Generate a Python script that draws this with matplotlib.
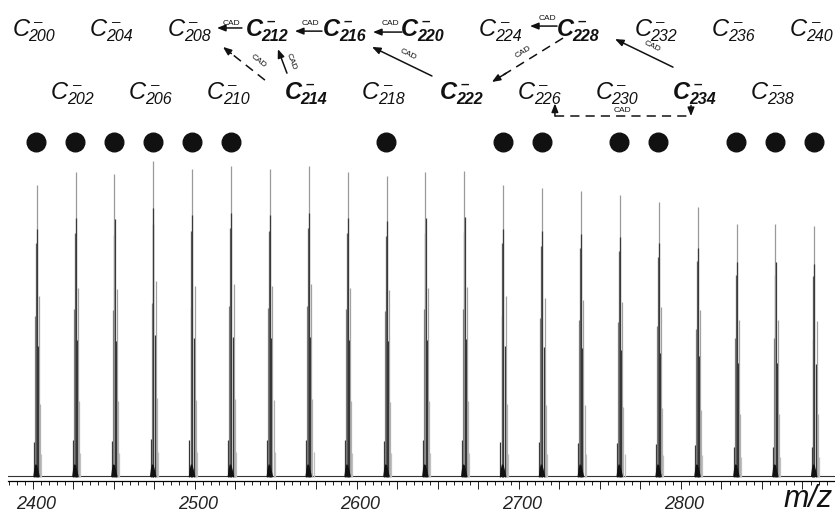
import matplotlib
matplotlib.use("Agg")
import matplotlib.pyplot as plt
import matplotlib.transforms as mtransforms
from matplotlib.ticker import MultipleLocator, FuncFormatter

plt.rcParams['font.family'] = ['Liberation Sans', 'DejaVu Sans']

# carbon cluster anions C_n^- and their peak heights (% of C206)
cluster_n = list(range(200, 242, 2))
peak_height = [92.4, 96.5, 95.9, 100.0, 97.5, 98.4, 97.5, 98.4, 96.5, 95.3,
               96.5, 96.8, 92.4, 91.5, 90.5, 89.2, 87.0, 85.4, 80.1, 80.1, 79.4]
marked_n = [200, 202, 204, 206, 208, 210, 218, 224, 226, 230, 232, 236, 238, 240]
bold_n = [212, 214, 216, 220, 222, 228, 234]

# isotope sticks inside one cluster (m/z offset, relative height, grey)
iso_offset = [0.6, 1.3, 1.8, 2.3, 2.4, 3.2, 3.8, 4.5, 5.2]
iso_rel = [0.12, 0.55, 0.80, 1.00, 0.85, 0.45, 0.62, 0.25, 0.08]
iso_color = ['#333333', '#808080', '#555555', '#9a9a9a', '#3a3a3a',
             '#2a2a2a', '#a0a0a0', '#b0b0b0', '#c0c0c0']
base_x = [0.2, 0.8, 1.5, 2.5, 3.4, 4.3]
base_y = [0.0, 2.5, 4.0, 3.8, 2.0, 0.0]

# CAD arrows: tail (m/z, y), head (m/z, y), dashed, label (m/z, y, angle)
cad_arrows = [
    (2529.0, 142.1, 2513.6, 142.1, False, 2522.8, 143.6, 0),
    (2578.4, 141.1, 2561.7, 141.1, False, 2571.0, 143.6, 0),
    (2627.8, 140.8, 2609.9, 140.8, False, 2620.4, 143.6, 0),
    (2543.2, 125.6, 2517.3, 136.1, True, 2539.5, 131.5, -38),
    (2556.8, 127.8, 2551.2, 135.4, False, 2559.6, 131.5, -69),
    (2646.3, 126.9, 2609.3, 136.1, False, 2631.5, 133.8, -26),
    (2723.5, 142.7, 2706.8, 142.7, False, 2717.3, 145.2, 0),
    (2727.2, 138.9, 2683.3, 125.0, True, 2703.0, 134.5, 32),
    (2795.1, 129.7, 2759.3, 138.6, False, 2782.0, 136.3, -26),
]

fig = plt.figure(figsize=(8.35, 5.14), dpi=100)
ax = fig.add_axes([8 / 835, 33 / 514, 827 / 835, 481 / 514])
ax.set_xlim(2384.6, 2895.1)
ax.set_ylim(-1.27, 150.95)

# baseline
ax.plot([2384.6, 2895.1], [0.2, 0.2], color='#333333', lw=0.8, zorder=1)

for n, h in zip(cluster_n, peak_height):
    mz = 12 * n
    for off, rel, col in zip(iso_offset, iso_rel, iso_color):
        ax.vlines(mz + off, 0, h * rel, color=col, lw=0.9, zorder=2)
    ax.fill([mz + bx for bx in base_x], base_y, color='#111111', lw=0, zorder=3)

# dots over selected clusters
ax.scatter([12 * n + 2 for n in marked_n], [106.0] * len(marked_n),
           s=180, color='#111111', zorder=4)

# cluster labels: C, subscript size, superscript minus
for n in cluster_n:
    y = 139.5 if n % 4 == 0 else 119.6
    w = 'bold' if n in bold_n else 'normal'
    kw = dict(textcoords='offset points', ha='left', va='baseline',
              style='italic', weight=w, color='#111111')
    ax.annotate('C', (12 * n + 0.5, y), xytext=(-15.5, 0), fontsize=17, **kw)
    ax.annotate(str(n), (12 * n + 0.5, y), xytext=(-4.0, -3.8), fontsize=11.5, **kw)
    ax.annotate('\u2013', (12 * n + 0.5, y), xytext=(-0.5, 7.3), fontsize=11, **kw)

head = dict(arrowstyle='-|>,head_length=0.5,head_width=0.2', mutation_scale=10,
            lw=1.1, color='#111111', shrinkA=0, shrinkB=0)
for tx, ty, hx, hy, dashed, lx, ly, rot in cad_arrows:
    if dashed:
        ax.plot([tx, hx + 0.1 * (tx - hx)], [ty, hy + 0.1 * (ty - hy)],
                color='#111111', lw=1.1, linestyle=(0, (6, 4)))
        ax.annotate('', xy=(hx, hy), xytext=(hx + 0.2 * (tx - hx), hy + 0.2 * (ty - hy)),
                    arrowprops=head)
    else:
        ax.annotate('', xy=(hx, hy), xytext=(tx, ty), arrowprops=head)
    ax.text(lx, ly, 'CAD', fontsize=6, rotation=rot, ha='center', va='center',
            rotation_mode='anchor', color='#111111')

# C234 -> C226 bracket arrow
ax.plot([2722.2, 2806.2], [114.2, 114.2], color='#111111', lw=1.1, linestyle=(0, (6, 4)))
ax.annotate('', xy=(2806.2, 114.2), xytext=(2806.2, 117.6), arrowprops=head)
ax.annotate('', xy=(2722.2, 118.2), xytext=(2722.2, 114.2), arrowprops=head)
ax.text(2763.6, 116.0, 'CAD', fontsize=6, ha='center', va='center', color='#111111')

for side in ['left', 'right', 'top']:
    ax.spines[side].set_visible(False)
ax.spines['bottom'].set_linewidth(0.9)
ax.set_yticks([])
ax.xaxis.set_major_locator(MultipleLocator(25))
ax.xaxis.set_minor_locator(MultipleLocator(5))
ax.xaxis.set_major_formatter(FuncFormatter(lambda v, p: '%d' % v if v % 100 == 0 else ''))
ax.tick_params(axis='x', which='major', length=6, width=0.7, pad=5,
               labelsize=13, colors='#222222')
ax.tick_params(axis='x', which='minor', length=3, width=0.7, colors='#222222')
shift = mtransforms.ScaledTranslation(3 / 100, 0, fig.dpi_scale_trans)
for lab in ax.get_xticklabels():
    lab.set_fontstyle('italic')
    lab.set_transform(lab.get_transform() + shift)

fig.text(808 / 835, 1 - 499 / 514, 'm/z', fontsize=22, style='italic',
         ha='center', va='center', color='#111111')

fig.savefig('out.png', dpi=100)
